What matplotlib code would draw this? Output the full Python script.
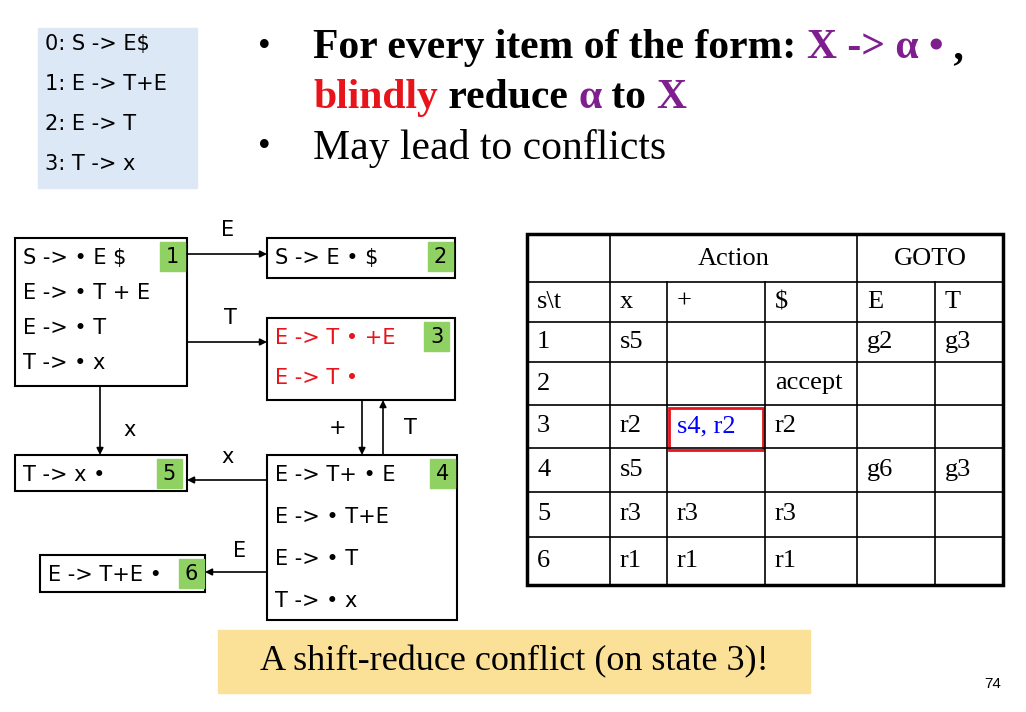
import matplotlib.pyplot as plt
from matplotlib.patches import Rectangle

grammar = ["0: S -> E$", "1: E -> T+E", "2: E -> T", "3: T -> x"]

states = {
    1: ["S -> \u2022 E $", "E -> \u2022 T + E", "E -> \u2022 T", "T -> \u2022 x"],
    2: ["S -> E \u2022 $"],
    3: ["E -> T \u2022 +E", "E -> T \u2022"],
    4: ["E -> T+ \u2022 E", "E -> \u2022 T+E", "E -> \u2022 T", "T -> \u2022 x"],
    5: ["T -> x \u2022"],
    6: ["E -> T+E \u2022"],
}

col_labels = ["s\\t", "x", "+", "$", "E", "T"]
table_rows = [
    ["1", "s5", "", "", "g2", "g3"],
    ["2", "", "", "accept", "", ""],
    ["3", "r2", "s4, r2", "r2", "", ""],
    ["4", "s5", "", "", "g6", "g3"],
    ["5", "r3", "r3", "r3", "", ""],
    ["6", "r1", "r1", "r1", "", ""],
]

PURPLE = "#7f1f8f"
RED = "#e8141c"
GREEN = "#8fd163"
SERIF = "Liberation Serif"

fig = plt.figure(figsize=(10.26, 7.12), dpi=100)
ax = fig.add_axes([0, 0, 1, 1])
ax.set_xlim(0, 1026)
ax.set_ylim(712, 0)
ax.axis("off")
renderer = fig.canvas.get_renderer()


def pieces(x, y, parts, size, weight="bold"):
    # draw text pieces one after another, each in its own colour
    for s, c in parts:
        t = ax.text(x, y, s, color=c, fontsize=size, family=SERIF,
                    weight=weight, va="center", ha="left")
        bb = t.get_window_extent(renderer)
        x += bb.width


# grammar box
ax.add_patch(Rectangle((38, 28), 159, 160, color="#dde8f7", zorder=0))
for i, g in enumerate(grammar):
    ax.text(45, 44 + i * 40, g, fontsize=15, va="center")

# bullets
ax.text(258, 48, "\u2022", fontsize=26, family=SERIF, va="center")
ax.text(258, 148, "\u2022", fontsize=26, family=SERIF, va="center")
pieces(313, 48, [("For every item of the form: ", "black"),
                 ("X -> \u03b1 \u2022", PURPLE), (" ,", "black")], 30)
pieces(313, 98, [("blindly", RED), (" reduce ", "black"), ("\u03b1", PURPLE),
                 (" to ", "black"), ("X", PURPLE)], 30)
pieces(313, 148, [("May lead to conflicts", "black")], 30, weight="normal")

# state boxes: x0, y0, x1, y1, line step, label box x
boxes = {
    1: (15, 238, 187, 386, 35, 160),
    2: (267, 238, 455, 278, 35, 428),
    3: (267, 318, 455, 400, 40, 424),
    4: (267, 455, 457, 620, 42, 430),
    5: (15, 455, 187, 491, 35, 157),
    6: (40, 555, 205, 592, 35, 179),
}
for k, (x0, y0, x1, y1, step, lx) in boxes.items():
    ax.add_patch(Rectangle((x0, y0), x1 - x0, y1 - y0, fill=False, lw=1.5))
    col = RED if k == 3 else "black"
    for i, line in enumerate(states[k]):
        ax.text(x0 + 8, y0 + 20 + i * step, line, fontsize=15, color=col,
                va="center")
    ax.add_patch(Rectangle((lx, y0 + 4), 25, 29, color=GREEN))
    ax.text(lx + 12.5, y0 + 19, str(k), fontsize=15, ha="center", va="center")

arrows = [
    ((187, 254), (267, 254), "E", (228, 230)),
    ((187, 342), (267, 342), "T", (230, 318)),
    ((100, 386), (100, 455), "x", (130, 430)),
    ((362, 400), (362, 455), "+", (338, 428)),
    ((383, 455), (383, 400), "T", (410, 428)),
    ((267, 480), (187, 480), "x", (228, 457)),
    ((267, 572), (205, 572), "E", (240, 551)),
]
for start, end, lab, pos in arrows:
    ax.annotate("", xy=end, xytext=start,
                arrowprops=dict(arrowstyle="-|>", color="black", lw=1.2,
                                shrinkA=0, shrinkB=0))
    ax.text(pos[0], pos[1], lab, fontsize=15, ha="center", va="center")

# parse table
cols = [527, 610, 667, 765, 857, 935, 1003]
rows = [234, 282, 322, 362, 405, 448, 492, 537, 585]
for y in rows[1:-1]:
    ax.plot([cols[0], cols[-1]], [y, y], color="black", lw=1.2)
for x in cols[1:-1]:
    y_start = rows[0] if x in (610, 857) else rows[1]
    ax.plot([x, x], [y_start, rows[-1]], color="black", lw=1.2)
ax.add_patch(Rectangle((cols[0], rows[0]), cols[-1] - cols[0],
                       rows[-1] - rows[0], fill=False, lw=2.5))
ax.text((610 + 857) / 2, 259, "Action", fontsize=19, family=SERIF,
        ha="center", va="center")
ax.text((857 + 1003) / 2, 259, "GOTO", fontsize=19, family=SERIF,
        ha="center", va="center")
for r, row in enumerate([col_labels] + table_rows):
    yc = (rows[r + 1] + rows[r + 2]) / 2
    for c, val in enumerate(row):
        col = "blue" if val == "s4, r2" else "black"
        ax.text(cols[c] + 10, yc, val, fontsize=19, family=SERIF, color=col,
                va="center")
ax.add_patch(Rectangle((669, 408), 94, 42, fill=False, ec=RED, lw=2))

# conflict note
ax.add_patch(Rectangle((218, 630), 592, 63, color="#fbe197", zorder=0))
ax.text(514, 662, "A shift-reduce conflict (on state 3)!", fontsize=26,
        family=SERIF, ha="center", va="center")
ax.text(993, 684, "74", fontsize=11, family="Liberation Sans", ha="center",
        va="center")

fig.savefig("out.png", dpi=100)
